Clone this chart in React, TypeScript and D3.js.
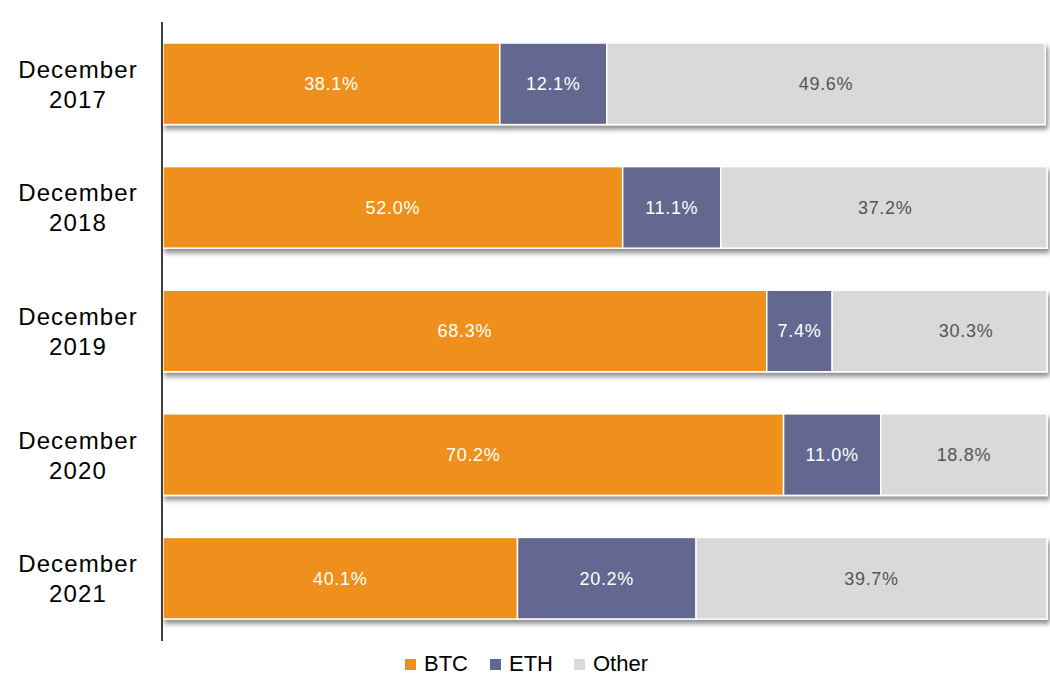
import React, { useRef, useEffect } from "react";
import * as d3 from "d3";

const years = ["December 2017", "December 2018", "December 2019", "December 2020", "December 2021"];
const seriesNames = ["BTC", "ETH", "Other"];
const btc = [38.1, 52.0, 68.3, 70.2, 40.1];
const eth = [12.1, 11.1, 7.4, 11.0, 20.2];
const other = [49.6, 37.2, 30.3, 18.8, 39.7];
const colors = ["#F0901C", "#626790", "#D9D9D9"];
const labelColors = ["#ffffff", "#ffffff", "#555555"];

const App = () => {
    const svgRef = useRef<SVGSVGElement>(null);

    useEffect(() => {
        const svg = d3.select(svgRef.current);
        svg.selectAll("*").remove();

        const width = 1050;
        const height = 698;
        const margin = { top: 22, right: 3, bottom: 58, left: 162 };

        const rows = years.map((y, i) => ({ year: y, BTC: btc[i], ETH: eth[i], Other: other[i] }));
        const layers = d3.stack<any>().keys(seriesNames)(rows);

        const xScale = d3.scaleLinear().domain([0, 100]).range([margin.left + 1, width - margin.right]);
        const xClamp = xScale.copy().clamp(true);
        const yScale = d3
            .scaleBand()
            .domain(years)
            .range([margin.top, height - margin.bottom])
            .paddingInner(0.34)
            .paddingOuter(0.17);

        svg.attr("width", width).attr("height", height);

        // shadow under bars
        const defs = svg.append("defs");
        const filter = defs.append("filter").attr("id", "shadow").attr("x", "-5%").attr("y", "-20%").attr("width", "110%").attr("height", "150%");
        filter
            .append("feDropShadow")
            .attr("dx", 2)
            .attr("dy", 4)
            .attr("stdDeviation", 2.5)
            .attr("flood-color", "#000")
            .attr("flood-opacity", 0.45);

        const rowsG = svg
            .selectAll(".row")
            .data(years)
            .enter()
            .append("g")
            .attr("class", "row")
            .attr("filter", "url(#shadow)");

        rowsG.each(function (yr, i) {
            const g = d3.select(this);
            layers.forEach((layer, k) => {
                const d = layer[i];
                g.append("rect")
                    .attr("x", xClamp(d[0]))
                    .attr("y", yScale(yr)!)
                    .attr("width", xClamp(d[1]) - xClamp(d[0]))
                    .attr("height", yScale.bandwidth())
                    .attr("fill", colors[k])
                    .attr("stroke", "#fff")
                    .attr("stroke-width", 1.5);
            });
        });

        // value labels
        const vals = [btc, eth, other];
        layers.forEach((layer, k) => {
            svg
                .append("g")
                .selectAll("text")
                .data(layer)
                .enter()
                .append("text")
                .attr("x", d => (xScale(d[0]) + xScale(d[1])) / 2)
                .attr("y", (d, i) => yScale(years[i])! + yScale.bandwidth() / 2)
                .attr("dy", "0.35em")
                .attr("text-anchor", "middle")
                .attr("fill", labelColors[k])
                .attr("font-family", "Liberation Sans, Arial, sans-serif")
                .attr("font-size", 18)
                .attr("letter-spacing", 0.7)
                .text((d, i) => vals[k][i].toFixed(1) + "%");
        });

        // axis line
        svg
            .append("line")
            .attr("x1", margin.left)
            .attr("x2", margin.left)
            .attr("y1", margin.top)
            .attr("y2", height - margin.bottom + 1)
            .attr("stroke", "#000")
            .attr("stroke-width", 1.5);

        // category labels
        const cat = svg
            .append("g")
            .selectAll("text")
            .data(years)
            .enter()
            .append("text")
            .attr("text-anchor", "middle")
            .attr("font-family", "Liberation Sans, Arial, sans-serif")
            .attr("font-size", 24)
            .attr("letter-spacing", 1.1)
            .attr("fill", "#000");
        cat.each(function (yr) {
            const parts = yr.split(" ");
            const cy = yScale(yr)! + yScale.bandwidth() / 2;
            parts.forEach((p, j) => {
                d3.select(this)
                    .append("tspan")
                    .attr("x", 78)
                    .attr("y", cy - 6 + j * 30)
                    .text(p);
            });
        });

        // legend
        const legendX = [405, 490, 574];
        const legend = svg
            .append("g")
            .selectAll("g")
            .data(seriesNames)
            .enter()
            .append("g")
            .attr("transform", (d, i) => `translate(${legendX[i]}, 659)`);
        legend.append("rect").attr("width", 11).attr("height", 11).attr("fill", (d, i) => colors[i]);
        legend
            .append("text")
            .attr("x", 19)
            .attr("y", 12)
            .attr("font-family", "Liberation Sans, Arial, sans-serif")
            .attr("font-size", 22)
            .attr("fill", "#000")
            .text(d => d);
    }, []);

    return <svg ref={svgRef} style={{ position: "absolute", left: 0, top: 0 }}></svg>;
};

export default App;
